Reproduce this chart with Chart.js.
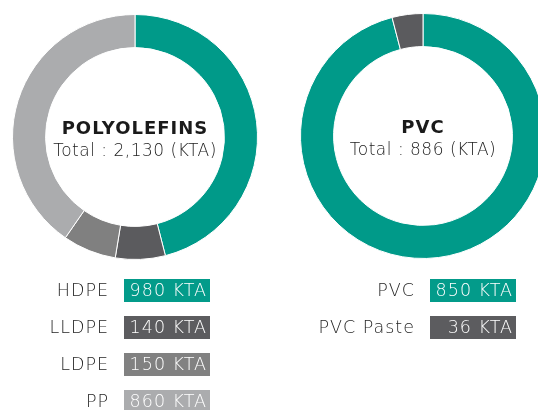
<!DOCTYPE html>
<html>
<head>
<meta charset="utf-8">
<script src="https://cdn.jsdelivr.net/npm/chart.js@4"></script>
<style>
  html, body { margin: 0; padding: 0; width: 538px; height: 410px; overflow: hidden; background: #fff; }
  body { position: relative; font-family: "DejaVu Sans", sans-serif; }
  .wrap { position: absolute; width: 246px; height: 246px; }
  #legend { opacity: 0.99; }
  .row { position: absolute; height: 23px; font-weight: 200; font-size: 17.5px; letter-spacing: 1px; }
  .lbl { position: absolute; right: 0; top: 0; line-height: 23px; color: #222; text-align: right; white-space: nowrap; }
  .box { position: absolute; top: 0; height: 23px; line-height: 23px; color: #fff; text-align: right; box-sizing: border-box; padding-right: 3px; white-space: nowrap; }
</style>
</head>
<body>
<div class="wrap" style="left:12px; top:14px;"><canvas id="polyChart"></canvas></div>
<div class="wrap" style="left:300px; top:13px;"><canvas id="pvcChart"></canvas></div>
<div id="legend"></div>
<script>
var polyLabels = ["HDPE", "LLDPE", "LDPE", "PP"];
var polyValues = [980, 140, 150, 860];
var polyColors = ["#009A89", "#5B5B5E", "#808080", "#ABACAE"];

var pvcLabels = ["PVC", "PVC Paste"];
var pvcValues = [850, 36];
var pvcColors = ["#009A89", "#5B5B5E"];

function centerText(title, total) {
  return {
    id: "centerText",
    afterDraw: function (chart) {
      var c = chart.ctx;
      var meta = chart.getDatasetMeta(0).data[0];
      c.save();
      c.textAlign = "center";
      c.textBaseline = "middle";
      c.fillStyle = "#1a1a1a";
      c.letterSpacing = "1px";
      c.font = "bold 18px 'DejaVu Sans', sans-serif";
      c.fillText(title, meta.x, meta.y - 8);
      c.fillStyle = "#222";
      c.letterSpacing = "0.5px";
      c.font = "200 17px 'DejaVu Sans', sans-serif";
      c.fillText(total, meta.x, meta.y + 15);
      c.restore();
    },
  };
}

function makeDonut(id, labels, values, colors, title, total) {
  var ctx = document.getElementById(id).getContext("2d");
  return new Chart(ctx, {
    type: "doughnut",
    data: {
      labels: labels,
      datasets: [
        {
          data: values,
          backgroundColor: colors,
          borderColor: "#ffffff",
          borderWidth: 1,
        },
      ],
    },
    options: {
      responsive: true,
      maintainAspectRatio: false,
      animation: false,
      cutout: "73%",
      layout: { padding: 0 },
      plugins: {
        legend: { display: false },
        tooltip: { enabled: false },
      },
    },
    plugins: [centerText(title, total)],
  });
}

function sum(arr) {
  return arr.reduce(function (a, b) { return a + b; }, 0);
}

makeDonut("polyChart", polyLabels, polyValues, polyColors, "POLYOLEFINS",
  "Total : " + sum(polyValues).toLocaleString("en-US") + " (KTA)");
makeDonut("pvcChart", pvcLabels, pvcValues, pvcColors, "PVC",
  "Total : " + sum(pvcValues) + " (KTA)");

// legend rows
var legend = document.getElementById("legend");
function addRows(labels, values, colors, labelRight, boxLeft, boxWidth) {
  for (var i = 0; i < labels.length; i++) {
    var top = 279 + i * 37;
    var lbl = document.createElement("div");
    lbl.className = "row";
    lbl.style.left = "0px";
    lbl.style.width = labelRight + "px";
    lbl.style.top = top + "px";
    lbl.innerHTML = '<span class="lbl">' + labels[i] + "</span>";
    legend.appendChild(lbl);

    var box = document.createElement("div");
    box.className = "row";
    box.style.left = boxLeft + "px";
    box.style.top = top + "px";
    box.style.width = boxWidth + "px";
    box.innerHTML = '<span class="box" style="width:' + boxWidth + "px;background:" + colors[i] + '">' + values[i] + " KTA</span>";
    legend.appendChild(box);
  }
}
addRows(polyLabels, polyValues, polyColors, 109, 124, 86);
addRows(pvcLabels, pvcValues, pvcColors, 415, 430, 86);
</script>
</body>
</html>
